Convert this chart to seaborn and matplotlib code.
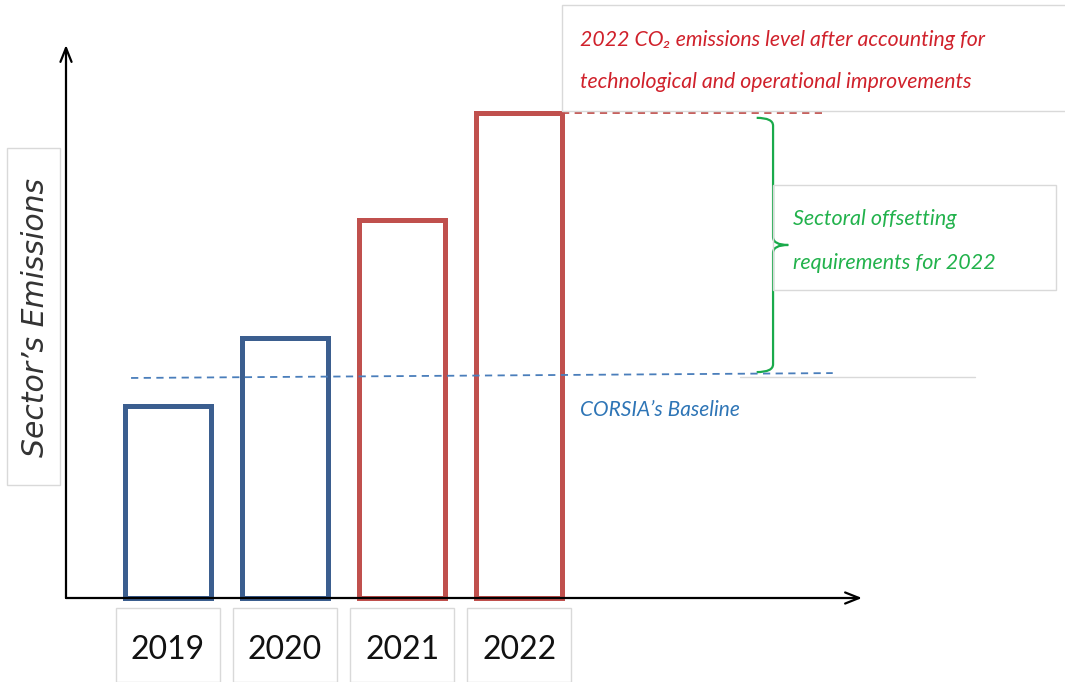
import matplotlib.pyplot as plt
import matplotlib.transforms as mtransforms
from matplotlib.patches import Rectangle, PathPatch
from matplotlib.path import Path
import seaborn as sns

# chart data (arbitrary emission units)
years = ['2019', '2020', '2021', '2022']
emissions = [3.93, 5.32, 7.73, 9.92]
bar_colors = ['#3b5e8f', '#3b5e8f', '#c0504d', '#c0504d']
baseline = [4.50, 4.60]   # CORSIA baseline, slightly tilted as drawn
level_2022 = emissions[-1]

W, H = 1065, 682
NOTE_FONT = ['Lato', 'DejaVu Sans']


def fx(px):
    return px / W


def fy(py):
    return 1 - py / H


sns.set_style('white')
plt.rcParams['font.family'] = NOTE_FONT

fig = plt.figure(figsize=(W / 100, H / 100), dpi=100)
ax = fig.add_axes([fx(66), fy(598), fx(862) - fx(66), fy(45) - fy(598)])

sns.barplot(x=years, y=emissions, hue=years, palette=bar_colors, fill=False,
            linewidth=3.6, width=0.735, legend=False, ax=ax)
for p in ax.patches:
    p.set_clip_on(False)

ax.set_xlim(-0.872, 5.93)
ax.set_ylim(0, 11.31)
ax.set_xticks([])
ax.set_yticks([])
ax.set_xlabel('')
ax.set_ylabel('')
sns.despine(ax=ax, left=True, bottom=True)

# axes as arrows
arrow = dict(arrowstyle='->,head_length=1.0,head_width=0.4', color='black', lw=1.6,
             shrinkA=0, shrinkB=0)
ax.annotate('', xy=(0, 1), xytext=(0, 0), xycoords='axes fraction', arrowprops=arrow)
ax.annotate('', xy=(1, 0), xytext=(0, 0), xycoords='axes fraction', arrowprops=arrow)

# year labels in boxes under the axis
blend = mtransforms.blended_transform_factory(ax.transData, fig.transFigure)
for i, yr in enumerate(years):
    ax.add_patch(Rectangle((i - 0.445, 0), 0.89, fy(608), transform=blend, fill=False,
                           edgecolor='#d9d9d9', lw=1, clip_on=False))
    ax.text(i, fy(650), yr, transform=blend, ha='center', va='center', fontsize=23,
            color='#111111')

# y label box
fig.patches.append(Rectangle((fx(7), fy(485)), fx(60) - fx(7), fy(148) - fy(485),
                             transform=fig.transFigure, fill=False, edgecolor='#d9d9d9', lw=1))
fig.text(fx(36), fy(317), 'Sector\u2019s Emissions', rotation=90, ha='center', va='center',
         fontsize=21.5, style='italic', family=['DejaVu Sans'], color='#333333')

# 2022 level line and note
ax.plot([3 + 0.3675, 5.62], [level_2022, level_2022], ls=(0, (4, 3)), color='#c0504d',
        lw=1.3, clip_on=False)
fig.patches.append(Rectangle((fx(562), fy(111)), 1.0, fy(5) - fy(111),
                             transform=fig.transFigure, fill=False, edgecolor='#d9d9d9', lw=1))
fig.text(fx(580), fy(40), '2022 CO\u2082 emissions level after accounting for', ha='left',
         va='center', fontsize=15.3, style='italic', color='#d0212b')
fig.text(fx(580), fy(82), 'technological and operational improvements', ha='left',
         va='center', fontsize=15.3, style='italic', color='#d0212b')

# baseline line and label
fig.add_artist(plt.Line2D([fx(740), fx(975)], [fy(377), fy(377)], color='#d9d9d9', lw=1))
ax.plot([-0.316, 5.68], baseline, ls=(0, (4, 3)), color='#4a7ebb', lw=1.3, clip_on=False)
fig.text(fx(580), fy(410), 'CORSIA\u2019s Baseline', ha='left', va='center', fontsize=15,
         style='italic', color='#2e75b6')

# brace for offsetting requirements
xb, x0, xt = 5.17, 5.03, 5.30
ytop = level_2022 - 0.1
ybot = sum(baseline) / 2 + 0.07
ymid = (ytop + ybot) / 2
r = 0.16
verts = [(x0, ytop), (xb, ytop), (xb, ytop - r),
         (xb, ymid + r), (xb, ymid), (xt, ymid),
         (xb, ymid), (xb, ymid - r),
         (xb, ybot + r), (xb, ybot), (x0, ybot)]
codes = [Path.MOVETO, Path.CURVE3, Path.CURVE3,
         Path.LINETO, Path.CURVE3, Path.CURVE3,
         Path.CURVE3, Path.CURVE3,
         Path.LINETO, Path.CURVE3, Path.CURVE3]
ax.add_patch(PathPatch(Path(verts, codes), fill=False, edgecolor='#1aaa4b', lw=1.6,
                       clip_on=False))

fig.patches.append(Rectangle((fx(773), fy(290)), fx(1056) - fx(773), fy(185) - fy(290),
                             transform=fig.transFigure, fill=False, edgecolor='#d9d9d9', lw=1))
fig.text(fx(793), fy(219), 'Sectoral offsetting', ha='left', va='center', fontsize=15.5,
         style='italic', color='#22b24c')
fig.text(fx(793), fy(263), 'requirements for 2022', ha='left', va='center', fontsize=15.5,
         style='italic', color='#22b24c')

fig.savefig('out.png', dpi=100)
